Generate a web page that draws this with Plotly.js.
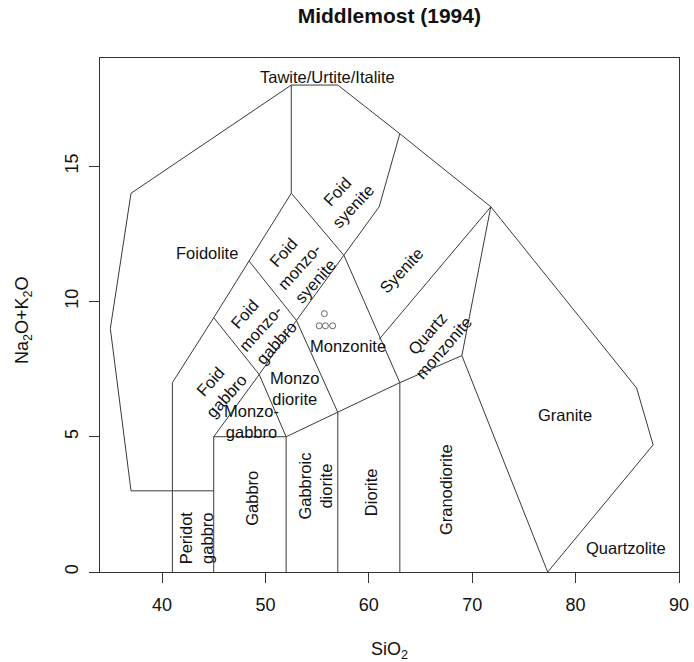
<!DOCTYPE html>
<html>
<head>
<meta charset="utf-8">
<script src="https://cdn.plot.ly/plotly-3.0.1.min.js"></script>
<style>html,body{margin:0;padding:0;background:#fff}#chart{width:694px;height:662px}</style>
</head>
<body>
<div id="chart"></div>
<script>
// ---- Field boundary polylines (SiO2, Na2O+K2O) ----
const outerX = [45, 37, 35, 37, 52.5, 57, 63, 71.8, 85.9, 87.5, 77.3];
const outerY = [3, 3, 9, 14, 18, 18, 16.2, 13.5, 6.8, 4.7, 0];
const foidEdgeX = [41, 41, 45, 48.4, 52.5, 52.5];
const foidEdgeY = [0, 7, 9.4, 11.5, 14, 18];
const gabbroX = [45, 45, 52, 52];
const gabbroY = [0, 5, 5, 0];
const foidInnerX = [45, 49.4, 53, 57.6, 61, 63];
const foidInnerY = [5, 7.3, 9.3, 11.7, 13.5, 16.2];
const cross1X = [45, 49.4, 52];
const cross1Y = [9.4, 7.3, 5];
const cross2X = [48.4, 53, 57, 57];
const cross2Y = [11.5, 9.3, 5.9, 0];
const cross3X = [52.5, 57.6, 63];
const cross3Y = [14, 11.7, 7];
const lowerX = [52, 57, 63, 69, 77.3];
const lowerY = [5, 5.9, 7, 8, 0];
const dioriteX = [63, 63];
const dioriteY = [0, 7];
const qzMonzX = [61, 71.8, 69];
const qzMonzY = [8.6, 13.5, 8];

// ---- Samples ----
const sampleSiO2 = [55.7, 55.2, 55.8, 56.5];
const sampleAlk = [9.55, 9.1, 9.1, 9.1];

// ---- Field labels ----
const fieldLabels = ["Tawite/Urtite/Italite", "Foidolite", "Foid<br>syenite", "Foid<br>monzo-<br>syenite",
  "Foid<br>monzo-<br>gabbro", "Foid<br>gabbro", "Monzonite", "Syenite", "Quartz<br>monzonite",
  "Monzo<br>diorite", "Monzo-<br>gabbro", "Gabbro", "Gabbroic<br>diorite", "Diorite",
  "Granodiorite", "Peridot<br>gabbro", "Granite", "Quartzolite"];
const labelX = [56.0, 44.35, 57.7, 53.3, 49.5, 45.4, 58.0, 63.2, 66.4, 52.85, 48.66, 48.76, 54.8, 60.16, 67.4, 43.3, 79.0, 84.9];
const labelY = [18.31, 11.8, 13.8, 11.28, 9.0, 6.8, 8.36, 11.15, 8.57, 6.79, 5.56, 2.73, 3.16, 2.97, 3.04, 1.25, 5.8, 0.9];
const labelAngle = [0, 0, -47, -48, -48, -48, 0, -47, -49, 0, 0, -90, -90, -90, -90, -90, 0, 0];

const xTicks = [40, 50, 60, 70, 80, 90];
const yTicks = [0, 5, 10, 15];
const xTitle = "SiO<sub>2</sub>";
const yTitle = "Na<sub>2</sub>O+K<sub>2</sub>O";

const FONT = "Liberation Sans, Arial, sans-serif";
const lineStyle = {color: "#3a3a3a", width: 1};
const lines = [[outerX, outerY], [foidEdgeX, foidEdgeY], [gabbroX, gabbroY], [foidInnerX, foidInnerY],
  [cross1X, cross1Y], [cross2X, cross2Y], [cross3X, cross3Y], [lowerX, lowerY],
  [dioriteX, dioriteY], [qzMonzX, qzMonzY]];

const traces = lines.map(l => ({
  x: l[0], y: l[1], type: "scatter", mode: "lines", line: lineStyle,
  hoverinfo: "skip", showlegend: false
}));
traces.push({
  x: sampleSiO2, y: sampleAlk, type: "scatter", mode: "markers", showlegend: false,
  marker: {symbol: "circle-open", size: 6, color: "#666", line: {width: 1, color: "#666"}}
});

const annotations = fieldLabels.map((t, i) => ({
  x: labelX[i], y: labelY[i], xref: "x", yref: "y", text: t, showarrow: false,
  textangle: labelAngle[i], font: {family: FONT, size: 16.5, color: "#111"}
}));
annotations.push({
  x: 0.5, y: 0, xref: "paper", yref: "paper", text: xTitle, showarrow: false,
  xanchor: "center", yanchor: "middle", yshift: -78,
  font: {family: FONT, size: 18, color: "#111"}
});
annotations.push({
  x: 0, y: 0.5, xref: "paper", yref: "paper", text: yTitle, showarrow: false,
  xanchor: "center", yanchor: "middle", xshift: -77, yshift: -5, textangle: -90,
  font: {family: FONT, size: 18, color: "#111"}
});

const layout = {
  width: 694, height: 662,
  margin: {l: 100, r: 15, t: 58, b: 90},
  paper_bgcolor: "#fff", plot_bgcolor: "#fff",
  showlegend: false,
  title: {text: "Middlemost (1994)", x: 0.561, xanchor: "center", y: 0.977, yanchor: "middle",
    font: {family: FONT, size: 21, weight: "bold", color: "#111"}},
  xaxis: {range: [34, 90], tickvals: xTicks, ticktext: xTicks.map(String),
    ticks: "outside", ticklen: 10, tickcolor: "#333", tickwidth: 1,
    showline: true, mirror: true, linecolor: "#333", linewidth: 1,
    showgrid: false, zeroline: false, ticklabelstandoff: 6,
    tickfont: {family: FONT, size: 18, color: "#111"}},
  yaxis: {range: [0, 19], tickvals: yTicks, ticktext: yTicks.map(String),
    ticks: "outside", ticklen: 10, tickcolor: "#333", tickwidth: 1, tickangle: -90,
    showline: true, mirror: true, linecolor: "#333", linewidth: 1,
    showgrid: false, zeroline: false, ticklabelstandoff: 4,
    tickfont: {family: FONT, size: 18, color: "#111"}},
  annotations: annotations
};

Plotly.newPlot("chart", traces, layout, {displayModeBar: false, staticPlot: true});
</script>
</body>
</html>
